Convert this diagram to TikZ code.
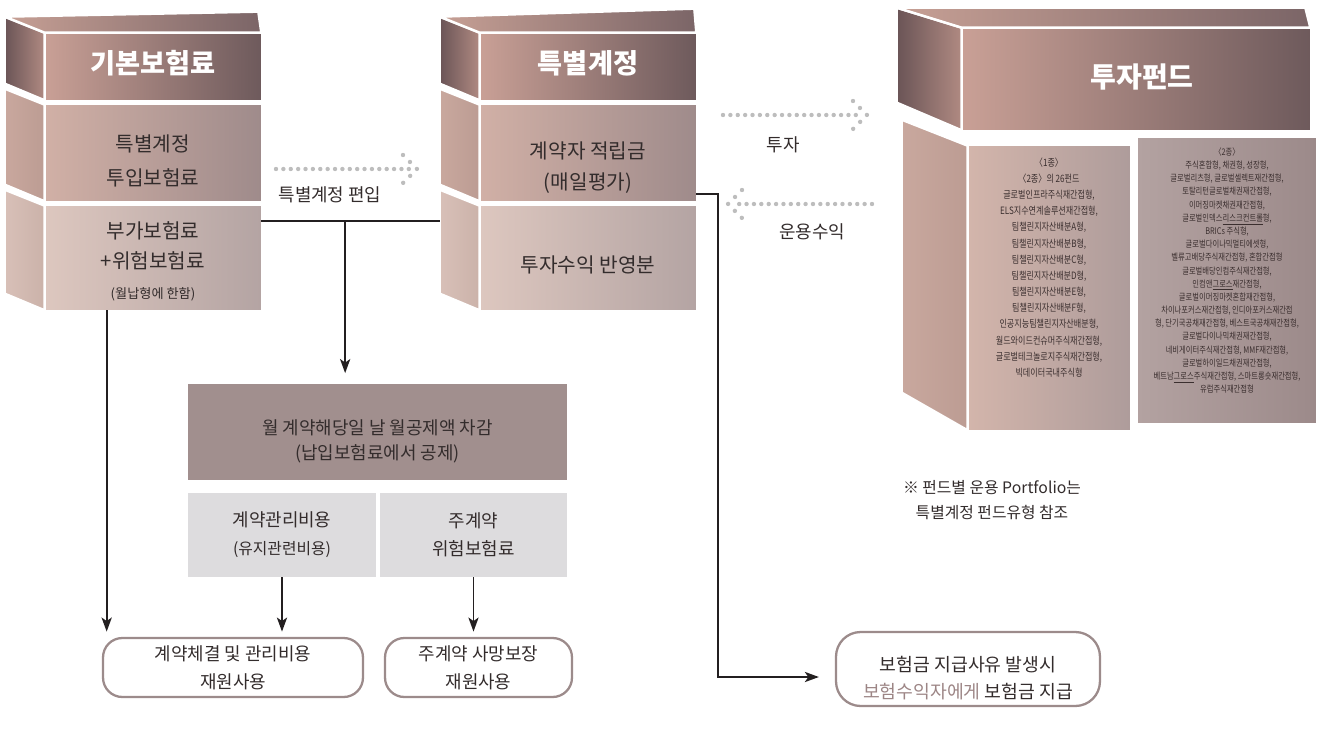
\documentclass[tikz,border=0pt]{standalone}
\usepackage{fontspec}
\setmainfont{Noto Sans CJK KR}
\newfontfamily\fundfont[FakeStretch=0.8]{Noto Sans CJK KR}
\usepackage{xcolor}
\usepackage{tikz}
\usetikzlibrary{positioning, arrows.meta, calc}
\definecolor{hdLeft}{HTML}{C9A096}
\definecolor{hdRight}{HTML}{6E5A5C}
\definecolor{hdSideL}{HTML}{6A5456}
\definecolor{hdSideR}{HTML}{B08A82}
\definecolor{topL}{HTML}{C7A095}
\definecolor{topR}{HTML}{7B6567}
\definecolor{secOneL}{HTML}{D1B0A6}
\definecolor{secOneR}{HTML}{9F8B8B}
\definecolor{secTwoL}{HTML}{DDC7BF}
\definecolor{secTwoR}{HTML}{B4A4A3}
\definecolor{sideOneL}{HTML}{C9A89E}
\definecolor{sideOneR}{HTML}{BC9C93}
\definecolor{sideTwoL}{HTML}{D8C0B8}
\definecolor{sideTwoR}{HTML}{CBB2A9}
\definecolor{panOneL}{HTML}{D3B5AB}
\definecolor{panOneR}{HTML}{AE9C9B}
\definecolor{panTwoL}{HTML}{B3A2A1}
\definecolor{panTwoR}{HTML}{9C8A8A}
\definecolor{dedFill}{HTML}{A18F8E}
\definecolor{lightBox}{HTML}{DDDCDE}
\definecolor{boxLine}{HTML}{9C8B8B}
\definecolor{payMauve}{HTML}{9C8585}
\definecolor{dotGray}{HTML}{BDBDBD}
\definecolor{lineBlack}{HTML}{231F20}
\definecolor{txtDark}{HTML}{332C2C}
\definecolor{fundText}{HTML}{3B2F2F}

\tikzset{
  face/.style={inner sep=0pt, minimum width=4.32cm},
  facework/.style={draw=white, line width=1.4pt},
  headtext/.style={text=white, font=\bfseries\fontsize{15.5}{18}\selectfont},
  blocktext/.style={align=center, text=txtDark, inner sep=0pt},
  fundtext/.style={align=center, text=fundText, inner sep=0pt},
  flowlabel/.style={text=txtDark, inner sep=0pt, font=\fontsize{10.2}{12}\selectfont},
  greybox/.style={fill=lightBox, inner sep=0pt, minimum height=1.68cm, align=center, text=txtDark},
  usebox/.style={draw=boxLine, line width=1.3pt, rounded corners=11pt, align=center, inner sep=0pt,
    minimum height=1.18cm, text=txtDark, font=\fontsize{10.2}{16}\selectfont},
  line/.style={draw=lineBlack, line width=1.1pt},
  arr/.style={line, -{Stealth[length=8pt, width=5.8pt, inset=2pt]}},
  dotrow/.style={draw=dotGray, line width=2.5pt, line cap=round, dash pattern=on 0pt off 4.2pt},
  dothead/.style={draw=dotGray, line width=2.5pt, line cap=round, dash pattern=on 0pt off 5.6pt},
}

\begin{document}
\begin{tikzpicture}[x=0.02cm, y=-0.02cm]
  \useasboundingbox (0,0) rectangle (1330,731);

  % Block A: basic premium
  \node[face, minimum height=1.34cm, left color=hdLeft, right color=hdRight] (hA) at (153,66.5) {};
  \node[face, minimum height=1.92cm, left color=secOneL, right color=secOneR] (a1) at (153,153) {};
  \node[face, minimum height=2.08cm, left color=secTwoL, right color=secTwoR] (a2) at (153,258) {};
  \shadedraw[facework, left color=hdSideL, right color=hdSideR]
    (hA.north west) -- ++(-40,-16) -- ++(0,67) -- (hA.south west) -- cycle;
  \shadedraw[facework, left color=topL, right color=topR]
    (hA.north west) -- ++(-40,-16) -- ($(hA.north east)+(-3,-21)$) -- (hA.north east) -- cycle;
  \shadedraw[facework, left color=sideOneL, right color=sideOneR]
    (a1.north west) -- ++(-40,-16) -- ++(0,96) -- (a1.south west) -- cycle;
  \shadedraw[facework, left color=sideTwoL, right color=sideTwoR]
    (a2.north west) -- ++(-40,-16) -- ++(0,104) -- (a2.south west) -- cycle;
  \node[headtext] (hAtxt) at (153,63) {기본보험료};
  \node[blocktext, font=\fontsize{11.5}{19.8}\selectfont] (a1txt) at (153,161) {특별계정\\투입보험료};
  \node[blocktext, font=\fontsize{11.5}{17}\selectfont] (a2txt) at (153,261)
    {부가보험료\\+위험보험료\\{\fontsize{7.5}{9}\selectfont (월납형에 한함)}};

  % Block B: special account
  \node[face, minimum height=1.34cm, left color=hdLeft, right color=hdRight] (hB) at (588,66.5) {};
  \node[face, minimum height=1.92cm, left color=secOneL, right color=secOneR] (b1) at (588,153) {};
  \node[face, minimum height=2.08cm, left color=secTwoL, right color=secTwoR] (b2) at (588,258) {};
  \shadedraw[facework, left color=hdSideL, right color=hdSideR]
    (hB.north west) -- ++(-40,-16) -- ++(0,67) -- (hB.south west) -- cycle;
  \shadedraw[facework, left color=topL, right color=topR]
    (hB.north west) -- ++(-40,-16) -- ($(hB.north east)+(-2,-24)$) -- (hB.north east) -- cycle;
  \shadedraw[facework, left color=sideOneL, right color=sideOneR]
    (b1.north west) -- ++(-40,-16) -- ++(0,96) -- (b1.south west) -- cycle;
  \shadedraw[facework, left color=sideTwoL, right color=sideTwoR]
    (b2.north west) -- ++(-40,-16) -- ++(0,104) -- (b2.south west) -- cycle;
  \node[headtext] (hBtxt) at (588,63) {특별계정};
  \node[blocktext, font=\fontsize{11.5}{17.6}\selectfont] (b1txt) at (588,167.5) {계약자 적립금\\(매일평가)};
  \node[blocktext, font=\fontsize{11.5}{17}\selectfont] (b2txt) at (588,265) {투자수익 반영분};

  % Block C: investment funds
  \node[inner sep=0pt, minimum width=6.96cm, minimum height=2.04cm, left color=hdLeft, right color=hdRight] (hC) at (1136,79) {};
  \node[inner sep=0pt, minimum width=3.24cm, minimum height=5.68cm, left color=panOneL, right color=panOneR] (p1) at (1049,288) {};
  \node[inner sep=0pt, minimum width=3.56cm, minimum height=5.7cm, left color=panTwoL, right color=panTwoR] (p2) at (1227,280.5) {};
  \shadedraw[facework, left color=hdSideL, right color=hdSideR]
    (hC.north west) -- ++(-65,-20) -- ++(0,95) -- (hC.south west) -- cycle;
  \shadedraw[facework, left color=topL, right color=topR]
    (hC.north west) -- ++(-65,-20) -- ($(hC.north east)+(-5,-20)$) -- (hC.north east) -- cycle;
  \shadedraw[facework, left color=sideOneL, right color=sideOneR]
    (p1.north west) -- ++(-66,-26) -- ++(0,273) -- (p1.south west) -- cycle;
  \node[headtext, font=\bfseries\fontsize{16}{18}\selectfont] (hCtxt) at (1142,77) {투자펀드};
  \node[fundtext, font=\fundfont\fontsize{5.75}{9.2}\selectfont] (p1txt) at (1049,267.5)
    {〈1종〉\\〈2종〉의 26펀드\\글로벌인프라주식재간접형,\\ELS지수연계솔루션재간접형,\\
     팀챌린지자산배분A형,\\팀챌린지자산배분B형,\\팀챌린지자산배분C형,\\팀챌린지자산배분D형,\\
     팀챌린지자산배분E형,\\팀챌린지자산배분F형,\\인공지능팀챌린지자산배분형,\\
     월드와이드컨슈머주식재간접형,\\글로벌테크놀로지주식재간접형,\\빅데이터국내주식형};
  \node[fundtext, font=\fundfont\fontsize{5.2}{7.5}\selectfont] (p2txt) at (1227,270.5)
    {〈2종〉\\주식혼합형, 채권형, 성장형,\\글로벌리츠형, 글로벌셀렉트재간접형,\\토탈리턴글로벌채권재간접형,\\
     이머징마켓채권재간접형,\\글로벌인덱스\underline{리스크컨트롤}형,\\BRICs 주식형,\\글로벌다이나믹멀티에셋형,\\
     벨류고배당주식재간접형, 혼합간접형\\글로벌배당인컴주식재간접형,\\인컴앤\underline{그로스}재간접형,\\
     글로벌이머징마켓혼합재간접형,\\차이나포커스재간접형, 인디아포커스재간접\\
     형, 단기국공채재간접형, 베스트국공채재간접형,\\글로벌다이나믹채권재간접형,\\
     네비게이터주식재간접형, MMF재간접형,\\글로벌하이일드채권재간접형,\\
     베트남\underline{그로스}주식재간접형, 스마트롱숏재간접형,\\유럽주식재간접형};

  % Monthly deduction and its two parts
  \node[fill=dedFill, inner sep=0pt, minimum width=7.58cm, minimum height=1.92cm] (ded) at (377.5,432) {};
  \node[blocktext, font=\fontsize{10.2}{14.2}\selectfont] (dedtxt) at (377.5,441)
    {월 계약해당일 날 월공제액 차감\\(납입보험료에서 공제)};
  \node[greybox, minimum width=3.76cm, font=\fontsize{10.2}{16}\selectfont] (cost) at (282,535)
    {계약관리비용\\{\fontsize{9}{10}\selectfont (유지관련비용)}};
  \node[greybox, minimum width=3.74cm, font=\fontsize{10.2}{16}\selectfont] (risk) at (473.5,535)
    {주계약\\위험보험료};

  % Final uses
  \node[usebox, minimum width=5.2cm] (use1) at (233,667.5) {계약체결 및 관리비용\\재원사용};
  \node[usebox, minimum width=3.74cm] (use2) at (478.5,667.5) {주계약 사망보장\\재원사용};
  \node[usebox, minimum width=5.28cm, minimum height=1.48cm, rounded corners=14pt] (pay) at (968,669) {};
  \node[blocktext, font=\fontsize{10.4}{15.5}\selectfont] (paytxt) at (968,678)
    {보험금 지급사유 발생시\\\textcolor{payMauve}{보험수익자에게} 보험금 지급};
  \node[blocktext, font=\fontsize{9}{14.2}\selectfont] (note) at (992,500)
    {※ 펀드별 운용 Portfolio는\\특별계정 펀드유형 참조};

  % Dotted flow arrows
  \coordinate (inS) at (276,169);
  \coordinate (inT) at (417,169);
  \draw[dotrow] (inS) -- ($(inT)+(-7,0)$);
  \draw[dothead] ($(inT)+(-14,-14)$) -- (inT) -- ($(inT)+(-14,14)$);
  \node[flowlabel] (inL) at (330,195) {특별계정 편입};
  \coordinate (invS) at (723,115);
  \coordinate (invT) at (867,115);
  \draw[dotrow] (invS) -- ($(invT)+(-7,0)$);
  \draw[dothead] ($(invT)+(-14,-14)$) -- (invT) -- ($(invT)+(-14,14)$);
  \node[flowlabel] (invL) at (783,145) {투자};
  \coordinate (retS) at (872,204);
  \coordinate (retT) at (728,204);
  \draw[dotrow] (retS) -- ($(retT)+(7,0)$);
  \draw[dothead] ($(retT)+(14,-14)$) -- (retT) -- ($(retT)+(14,14)$);
  \node[flowlabel] (retL) at (812,232) {운용수익};

  % Solid connectors
  \coordinate (jA) at ($(a2.north east)+(0,15)$);
  \coordinate (bIn) at ($(b2.north west)+(-40,15)$);
  \draw[line] (jA) -- (bIn);
  \coordinate (jB) at ($(jA)!0.47!(bIn)$);
  \draw[arr, shorten >=6pt] (jB) -- (jB |- ded.north);
  \coordinate (aOut) at ($(a2.south west)+(62,0)$);
  \draw[arr, shorten >=3pt] (aOut) -- (aOut |- use1.north);
  \draw[arr, shorten >=3pt] (cost.south) -- (cost.south |- use1.north);
  \draw[arr, shorten >=3pt] (risk.south) -- (risk.south |- use2.north);
  \coordinate (bOut) at ($(b1.south east)+(0,-7)$);
  \coordinate (payIn) at ($(pay.west)+(-16,8)$);
  \draw[arr] (bOut) -- ++(22,0) |- (payIn);
\end{tikzpicture}
\end{document}
